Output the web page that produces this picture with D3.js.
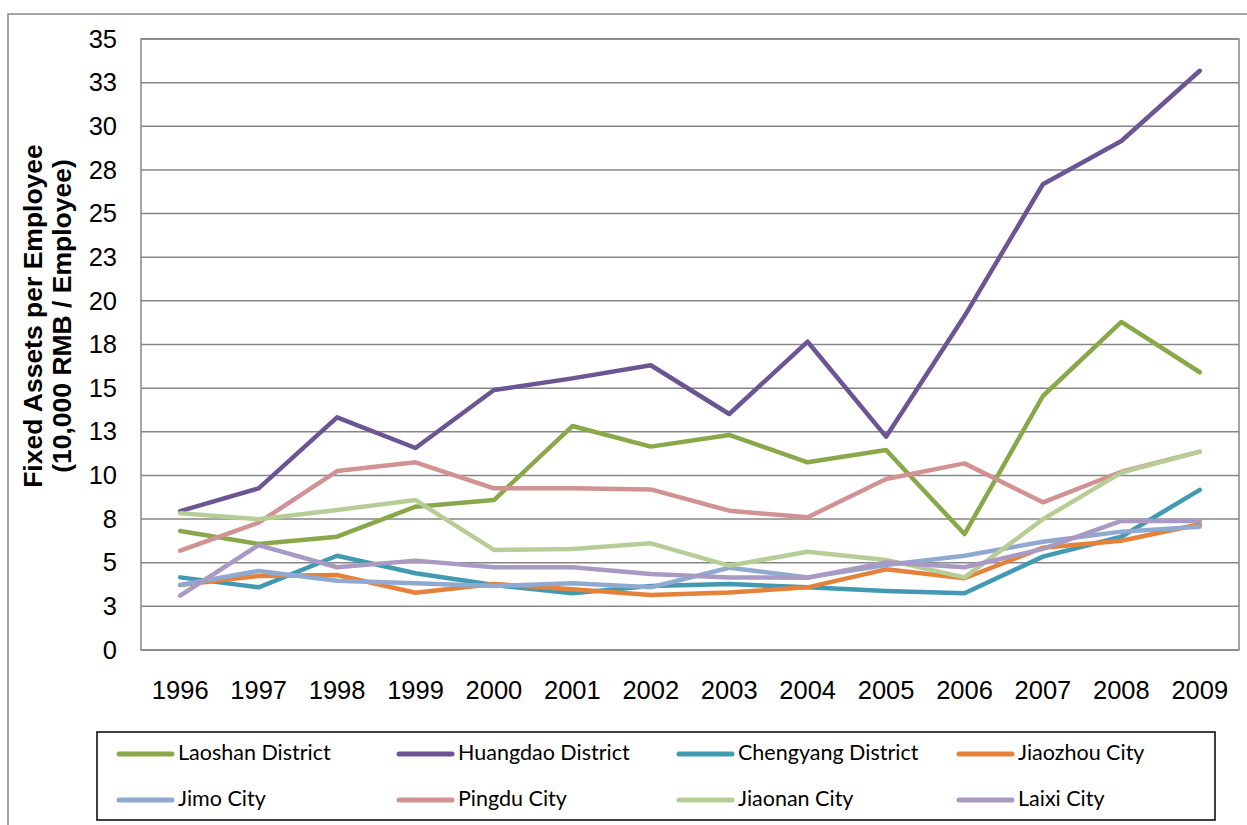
<!DOCTYPE html>
<html>
<head>
    <style>
        body { margin: 0; background: #fff; }
        .tick text { font: 25.5px "Liberation Sans", Arial, sans-serif; fill: #000; }
        .ytitle { font: bold 26.5px "Liberation Sans", Arial, sans-serif; fill: #000; }
        .legend text { font: 21.5px Lato, "Open Sans", sans-serif; fill: #000; }
    </style>
    <script src="https://d3js.org/d3.v7.min.js"></script>
</head>
<body>
    <svg width="1247" height="825"></svg>
    <script>
        var years = ["1996","1997","1998","1999","2000","2001","2002","2003","2004","2005","2006","2007","2008","2009"];
        var yTicks = [0, 2.5, 5, 7.5, 10, 12.5, 15, 17.5, 20, 22.5, 25, 27.5, 30, 32.5, 35];

        var laoshan   = [6.82, 6.07, 6.49, 8.21, 8.59, 12.83, 11.65, 12.32, 10.75, 11.46, 6.64, 14.55, 18.79, 15.91];
        var huangdao  = [7.96, 9.26, 13.33, 11.57, 14.89, 15.56, 16.31, 13.52, 17.66, 12.22, 19.13, 26.68, 29.16, 33.18];
        var chengyang = [4.16, 3.59, 5.40, 4.40, 3.72, 3.25, 3.67, 3.78, 3.59, 3.38, 3.25, 5.35, 6.49, 9.17];
        var jiaozhou  = [3.72, 4.24, 4.30, 3.28, 3.78, 3.48, 3.15, 3.30, 3.59, 4.62, 4.11, 5.86, 6.26, 7.20];
        var jimo      = [3.72, 4.53, 3.97, 3.82, 3.67, 3.82, 3.59, 4.71, 4.16, 4.87, 5.40, 6.20, 6.78, 7.06];
        var pingdu    = [5.69, 7.29, 10.25, 10.75, 9.26, 9.26, 9.20, 7.98, 7.60, 9.80, 10.69, 8.46, 10.21, 11.36];
        var jiaonan   = [7.83, 7.49, 8.02, 8.59, 5.73, 5.79, 6.11, 4.83, 5.63, 5.16, 4.16, 7.49, 10.16, 11.36];
        var laixi     = [3.11, 6.01, 4.74, 5.12, 4.74, 4.74, 4.35, 4.16, 4.14, 5.02, 4.74, 5.79, 7.39, 7.39];

        var names  = ["Laoshan District","Huangdao District","Chengyang District","Jiaozhou City","Jimo City","Pingdu City","Jiaonan City","Laixi City"];
        var colors = ["#89a84a","#6b5593","#4299b2","#e5823a","#90a9d1","#d19293","#b7cd96","#a89ac2"];
        var series = [laoshan, huangdao, chengyang, jiaozhou, jimo, pingdu, jiaonan, laixi];

        var svg = d3.select("svg");

        // outer chart border
        svg.append("rect")
           .attr("x", 8).attr("y", 14).attr("width", 1250).attr("height", 820)
           .attr("fill", "none").attr("stroke", "#868686").attr("stroke-width", 1.5);

        var pLeft = 141, pTop = 39, pRight = 1239, pBottom = 650;

        var x = d3.scaleBand().domain(years).range([pLeft, pRight]);
        var y = d3.scaleLinear().domain([0, 35]).range([pBottom, pTop]);

        // gridlines
        svg.append("g")
           .selectAll("line")
           .data(yTicks)
           .enter().append("line")
           .attr("x1", pLeft).attr("x2", pRight)
           .attr("y1", function(d) { return y(d); })
           .attr("y2", function(d) { return y(d); })
           .attr("stroke", "#868686").attr("stroke-width", 1.5);

        // plot border
        svg.append("rect")
           .attr("x", pLeft).attr("y", pTop)
           .attr("width", pRight - pLeft).attr("height", pBottom - pTop)
           .attr("fill", "none").attr("stroke", "#868686").attr("stroke-width", 1.5);

        // y axis labels (Excel rounds the 2.5 steps)
        var yAxis = d3.axisLeft(y).tickValues(yTicks).tickSize(0).tickPadding(24)
                      .tickFormat(function(d) { return Math.round(d + 0.001); });
        svg.append("g")
           .attr("transform", "translate(" + pLeft + ",0)")
           .call(yAxis)
           .call(function(g) { g.select(".domain").remove(); });

        // x axis labels
        var xAxis = d3.axisBottom(x).tickSize(0).tickPadding(31);
        svg.append("g")
           .attr("transform", "translate(0," + pBottom + ")")
           .call(xAxis)
           .call(function(g) { g.select(".domain").remove(); });

        // y title
        var yt = svg.append("text")
           .attr("class", "ytitle")
           .attr("transform", "translate(42,316) rotate(-90)")
           .attr("text-anchor", "middle");
        yt.append("tspan").attr("x", 0).attr("dy", 0).text("Fixed Assets per Employee");
        yt.append("tspan").attr("x", 0).attr("dy", 29).text("(10,000 RMB / Employee)");

        // lines
        var line = d3.line()
                     .x(function(d, i) { return x(years[i]) + x.bandwidth() / 2; })
                     .y(function(d) { return y(d); });

        series.forEach(function(s, k) {
            svg.append("path")
               .datum(s)
               .attr("d", line)
               .attr("fill", "none")
               .attr("stroke", colors[k])
               .attr("stroke-width", 4.5)
               .attr("stroke-linecap", "round")
               .attr("stroke-linejoin", "round");
        });

        // legend
        var legend = svg.append("g").attr("class", "legend");
        legend.append("rect")
              .attr("x", 97).attr("y", 732).attr("width", 1118).attr("height", 88)
              .attr("fill", "#fff").attr("stroke", "#000").attr("stroke-width", 1.5);

        names.forEach(function(n, k) {
            var col = k % 4, row = Math.floor(k / 4);
            var lx = 119 + col * 280, ly = 754 + row * 46;
            legend.append("line")
                  .attr("x1", lx).attr("x2", lx + 53)
                  .attr("y1", ly).attr("y2", ly)
                  .attr("stroke", colors[k]).attr("stroke-width", 5)
                  .attr("stroke-linecap", "round");
            legend.append("text")
                  .attr("x", lx + 59).attr("y", ly + 1)
                  .attr("dominant-baseline", "middle")
                  .text(n);
        });
    </script>
</body>
</html>
